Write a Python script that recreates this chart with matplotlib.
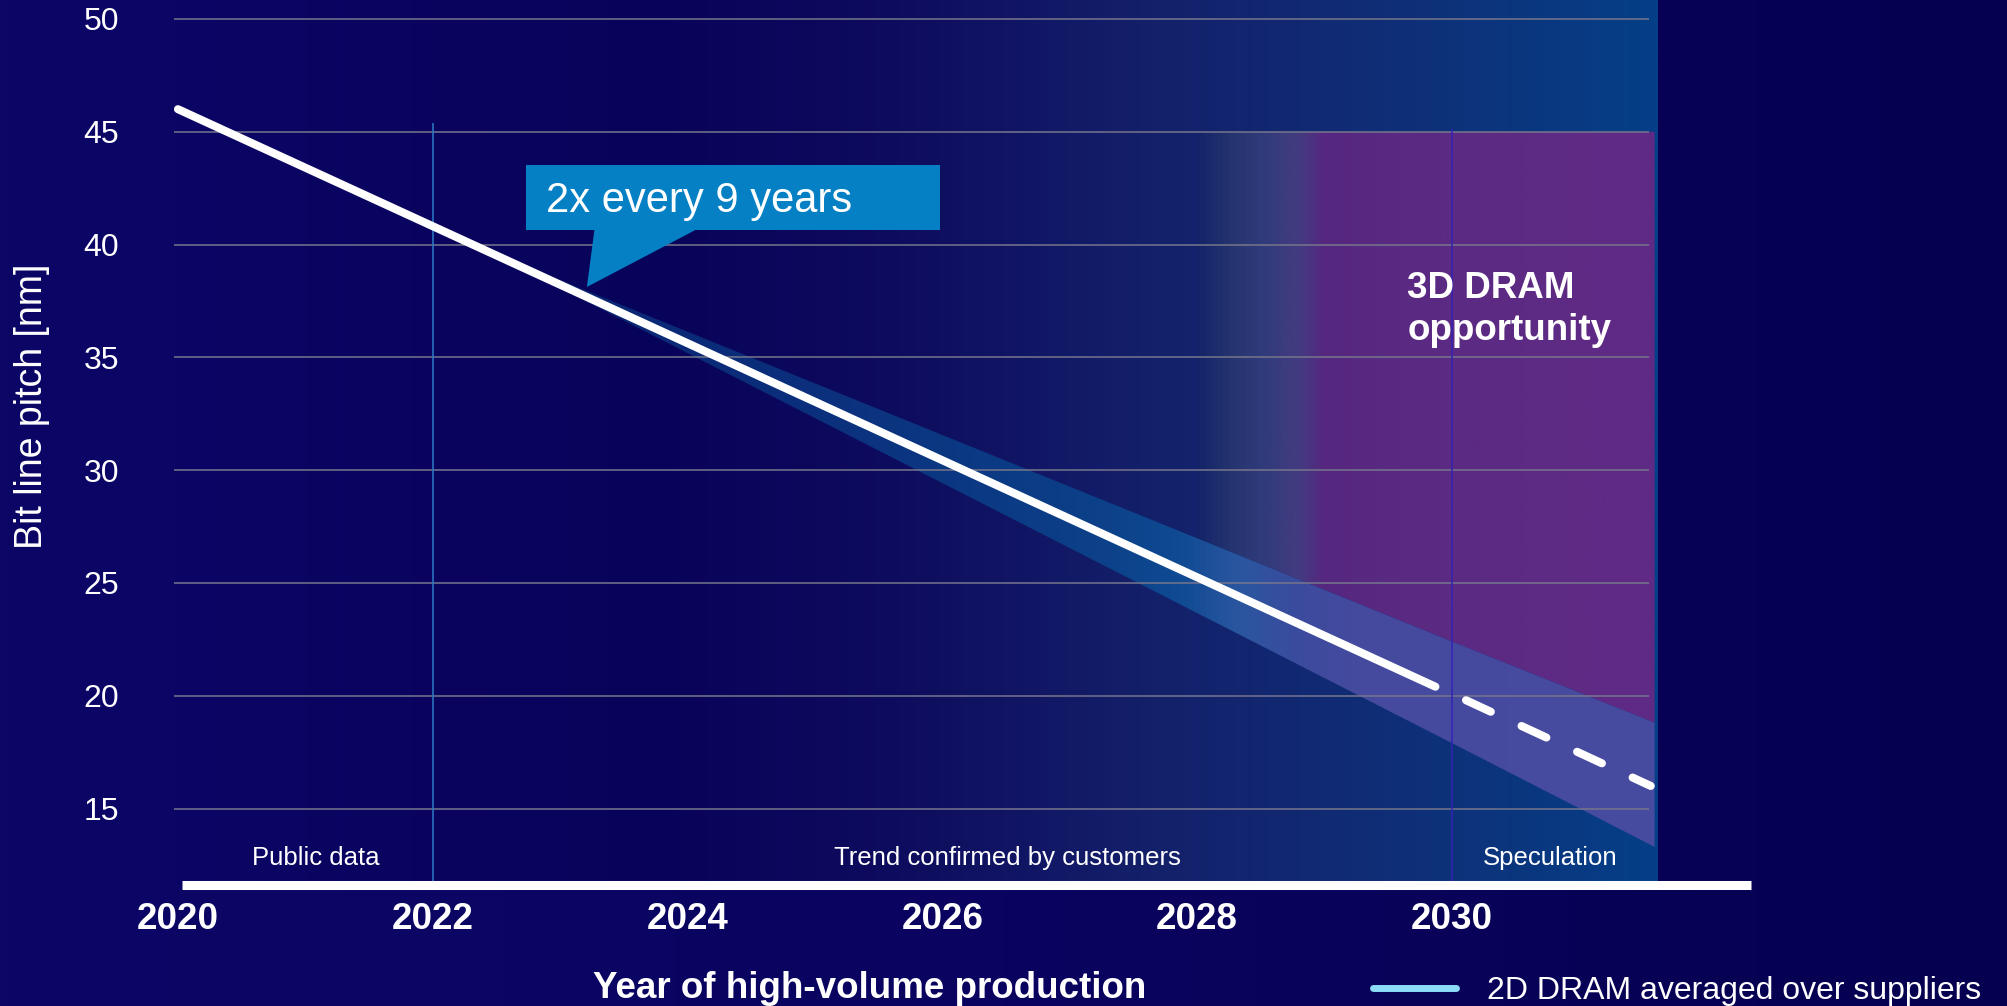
import numpy as np
import matplotlib.pyplot as plt
from matplotlib.colors import LinearSegmentedColormap
from matplotlib.patches import Rectangle, Polygon
from matplotlib.lines import Line2D

plt.rcParams['font.family'] = ['Liberation Sans', 'DejaVu Sans']

# bit line pitch roadmap, 2D DRAM (nm)
trend_years = [2020.0, 2029.87]
trend_pitch = [46.0, 20.4]
spec_years = [2030.11, 2031.56]
spec_pitch = [19.8, 16.0]

# spread of supplier roadmaps around the average
band_years = [2022.4, 2030.0, 2031.59]
band_upper = [39.8, 22.4, 18.8]
band_lower = [39.8, 17.9, 13.3]

# window where 3D DRAM takes over
opp_years = [2028.0, 2030.0, 2031.59]
opp_top = 45.0

year_ticks = [2020, 2022, 2024, 2026, 2028, 2030]
pitch_ticks = [15, 20, 25, 30, 35, 40, 45, 50]

phase_years = [2022, 2030]
phase_tops = [45.4, 45.1]
phase_colors = ['#2a7cc4', '#3322b4']
phase_labels = ['Public data', 'Trend confirmed by customers', 'Speculation']
phase_label_x = [2021.08, 2026.51, 2030.77]

W, H = 2008, 1006
x0, x1 = 2019.969, 2031.617
y0, y1 = 11.61, 50.84

fig = plt.figure(figsize=(W / 100, H / 100), dpi=100)

# page background
bg_ax = fig.add_axes([0, 0, 1, 1], zorder=-1)
bg_cmap = LinearSegmentedColormap.from_list('page', ['#0c0666', '#0a0460', '#060050'])
bg_ax.imshow(np.linspace(0, 1, 256)[None, :], cmap=bg_cmap, aspect='auto',
             extent=(0, 1, 0, 1))
bg_ax.axis('off')

ax = fig.add_axes([174 / W, (H - 885) / H, (1658 - 174) / W, 885 / H])
ax.patch.set_visible(False)

grad = np.linspace(0, 1, 512)[None, :]
ext = (x0, x1, y0, y1)

# plot area shading, dark navy to blue
plot_cmap = LinearSegmentedColormap.from_list('plot', [
    (0.0, '#0b0565'), (0.32, '#08035a'), (0.49, '#0e0c5e'),
    (0.66, '#14206a'), (0.85, '#0e3179'), (1.0, '#053f87')])
ax.imshow(grad, cmap=plot_cmap, aspect='auto', extent=ext, zorder=0)

# 3D DRAM opportunity area above the band
opp_bottom = np.interp(opp_years, band_years, band_upper)
opp = ax.fill_between(opp_years, opp_bottom, opp_top, facecolor='none', edgecolor='none')
opp_cmap = LinearSegmentedColormap.from_list('opp', [
    (0.0, '#12236a'), (0.69, '#12236a'), (0.715, '#263570'), (0.735, '#303b7b'),
    (0.759, '#433b80'), (0.776, '#562780'), (0.826, '#5a2a82'), (1.0, '#602a86')])
opp_img = ax.imshow(grad, cmap=opp_cmap, aspect='auto', extent=ext, zorder=1)
opp_img.set_clip_path(opp.get_paths()[0], transform=ax.transData)

# supplier band
band = ax.fill_between(band_years, band_lower, band_upper, facecolor='none', edgecolor='none')
band_cmap = LinearSegmentedColormap.from_list('band', [
    (0.0, '#0a1f70'), (0.206, '#0a2270'), (0.42, '#0b2f7c'), (0.62, '#0c4088'),
    (0.678, '#0f4a92'), (0.718, '#2a56a0'), (0.76, '#3c4b9d'), (0.8, '#454a9f'),
    (1.0, '#484ca0')])
band_img = ax.imshow(grad, cmap=band_cmap, aspect='auto', extent=ext, zorder=2)
band_img.set_clip_path(band.get_paths()[0], transform=ax.transData)

# grid
ax.hlines(pitch_ticks, x0, 2031.55, colors='#76768c', lw=1.1, zorder=3)
for yr, top, c in zip(phase_years, phase_tops, phase_colors):
    ax.vlines(yr, y0, top, colors=c, lw=1.1, zorder=3)

# average trend and its continuation
ax.plot(trend_years, trend_pitch, color='white', lw=5.8, solid_capstyle='round', zorder=5)
ax.plot(spec_years, spec_pitch, color='white', lw=5.8, dashes=(3.4, 4.2),
        dash_capstyle='round', zorder=5)

# x axis bar
ax.plot([2020.03, 2032.35], [y0, y0], color='white', lw=6.5, solid_capstyle='butt',
        clip_on=False, zorder=6)

# callout
ax.add_patch(Rectangle((2022.73, 40.65), 3.25, 2.88, facecolor='#0580c4',
                       edgecolor='none', zorder=6))
ax.add_patch(Polygon([(2023.27, 40.7), (2023.21, 38.12), (2024.08, 40.7)],
                     facecolor='#0580c4', edgecolor='none', zorder=6))
ax.text(2022.89, 41.45, '2x every 9 years', color='white', fontsize=30,
        va='baseline', zorder=7)

ax.text(2029.65, 35.77, '3D DRAM\nopportunity', color='white', fontsize=26.5,
        fontweight='bold', va='baseline', linespacing=1.25, zorder=7)

for lbl, xp in zip(phase_labels, phase_label_x):
    ax.text(xp, 12.5, lbl, color='white', fontsize=18.5, ha='center', va='baseline', zorder=7)

ax.set_xlim(x0, x1)
ax.set_ylim(y0, y1)
ax.set_xticks(year_ticks)
ax.set_xticklabels([str(y) for y in year_ticks], fontsize=26.5, fontweight='bold', color='white')
ax.set_yticks(pitch_ticks)
ax.set_yticklabels([str(p) for p in pitch_ticks], fontsize=23, color='white')
ax.tick_params(axis='x', length=0, pad=12)
ax.tick_params(axis='y', length=0, pad=39.6)
for s in ax.spines.values():
    s.set_visible(False)

fig.text(32 / W, 1 - 406 / H, 'Bit line pitch [nm]', rotation=90, color='white',
         fontsize=27, ha='center', va='center')
fig.text(870 / W, 1 - 998 / H, 'Year of high-volume production', color='white',
         fontsize=26.5, fontweight='bold', ha='center', va='baseline')

legend_line = Line2D([], [], color='#8cdcf8', lw=5, solid_capstyle='round')
fig.legend([legend_line], ['2D DRAM averaged over suppliers'], loc='center left',
           bbox_to_anchor=(1373 / W, 1 - 991 / H), frameon=False, fontsize=23,
           handlelength=2.6, handletextpad=0.98, borderpad=0, borderaxespad=0,
           labelcolor='white')

fig.savefig('out.png', dpi=100)
